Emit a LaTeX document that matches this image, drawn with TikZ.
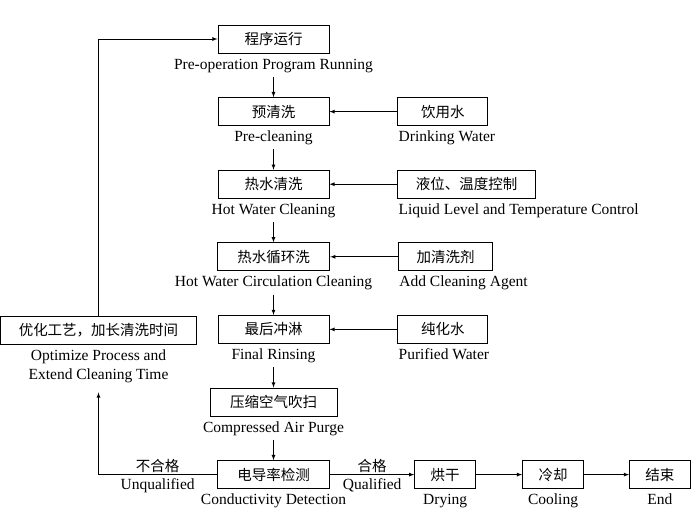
\documentclass[tikz,border=0pt]{standalone}
\usepackage{fontspec}
\setmainfont{Liberation Serif}
\newfontfamily\cjk{Noto Sans CJK SC}
\usetikzlibrary{positioning, arrows}
\tikzset{
  >=latex,
  node distance=72.6pt,
  box/.style={draw, line width=0.9pt, font=\cjk\fontsize{14.5}{17}\selectfont,
    minimum height=28pt, inner xsep=16pt, inner ysep=0pt},
  mainbox/.style={box, minimum width=111pt, inner xsep=20pt},
  sidebox/.style={box, minimum width=90pt, inner xsep=18pt},
  txt/.style={font=\fontsize{15.5}{19}\selectfont, inner sep=1pt,
    text height=10.5pt, text depth=3.5pt},
  cn/.style={font=\cjk\fontsize{14.5}{17}\selectfont, inner sep=2pt},
  flow/.style={->, line width=0.8pt},
  down/.style={flow, shorten <=3pt},
}

\begin{document}
\begin{tikzpicture}
  \useasboundingbox (0,0) rectangle (696pt,-522pt);

  % main column
  \node[mainbox] (run) at (273.5pt,-39pt) {程序运行};
  \node[mainbox,below of=run]   (pre)   {预清洗};
  \node[mainbox,below of=pre]   (hot)   {热水清洗};
  \node[mainbox,below of=hot]   (circ)  {热水循环洗};
  \node[mainbox,below of=circ]  (rinse) {最后冲淋};
  \node[mainbox,below of=rinse] (air)   {压缩空气吹扫};
  \node[mainbox,below of=air]   (check) {电导率检测};

  \node[txt,below=4pt of run]   (runtxt)   {Pre-operation Program Running};
  \node[txt,below=4pt of pre]   (pretxt)   {Pre-cleaning};
  \node[txt,below=4pt of hot]   (hottxt)   {Hot Water Cleaning};
  \node[txt,below=4pt of circ]  (circtxt)  {Hot Water Circulation Cleaning};
  \node[txt,below=4pt of rinse] (rinsetxt) {Final Rinsing};
  \node[txt,below=4pt of air]   (airtxt)   {Compressed Air Purge};
  \node[txt,below=4pt of check] (checktxt) {Conductivity Detection};

  % inputs on the right
  \node[sidebox,right=68pt of pre]   (drink) {饮用水};
  \node[sidebox,right=68pt of hot]   (level) {液位、温度控制};
  \node[sidebox,right=68pt of circ]  (agent) {加清洗剂};
  \node[sidebox,right=68pt of rinse] (pure)  {纯化水};

  \node[txt,below=4pt of drink.south west,anchor=north west] (drinktxt) {Drinking Water};
  \node[txt,below=4pt of level.south west,anchor=north west] (leveltxt) {Liquid Level and Temperature Control};
  \node[txt,below=4pt of agent.south west,anchor=north west] (agenttxt) {Add Cleaning Agent};
  \node[txt,below=4pt of pure.south west,anchor=north west]  (puretxt)  {Purified Water};

  % bottom row
  \node[box,right=84pt of check] (dry)  {烘干};
  \node[box,right=46pt of dry]   (cool) {冷却};
  \node[box,right=45pt of cool]  (stop) {结束};

  \node[txt,below=4pt of dry]  (drytxt)  {Drying};
  \node[txt,below=4pt of cool] (cooltxt) {Cooling};
  \node[txt,below=4pt of stop] (stoptxt) {End};

  % rework loop
  \node[box,minimum width=196pt] (opt) at (98.5pt,-330.5pt) {优化工艺，加长清洗时间};
  \node[font=\fontsize{15.5}{19}\selectfont,inner sep=1pt,align=center,below=4pt of opt]
    (opttxt) {Optimize Process and\\Extend Cleaning Time};

  \draw[down] (runtxt)   -- (pre);
  \draw[down] (pretxt)   -- (hot);
  \draw[down] (hottxt)   -- (circ);
  \draw[down] (circtxt)  -- (rinse);
  \draw[down] (rinsetxt) -- (air);
  \draw[down] (airtxt)   -- (check);

  \draw[flow] (drink) -- (pre);
  \draw[flow] (level) -- (hot);
  \draw[flow] (agent) -- (circ);
  \draw[flow] (pure)  -- (rinse);

  \draw[flow] (check) -- node[cn,above] (ok) {合格}
                         node[txt,below=3pt] (oktxt) {Qualified} (dry);
  \draw[flow] (dry)  -- (cool);
  \draw[flow] (cool) -- (stop);

  \draw[flow,shorten >=8pt] (check.west) -| node[cn,pos=0.25,above] (nok) {不合格}
        node[txt,pos=0.25,below=3pt] (noktxt) {Unqualified} (opttxt.south);
  \draw[flow] (opt.north) |- (run.west);
\end{tikzpicture}
\end{document}
